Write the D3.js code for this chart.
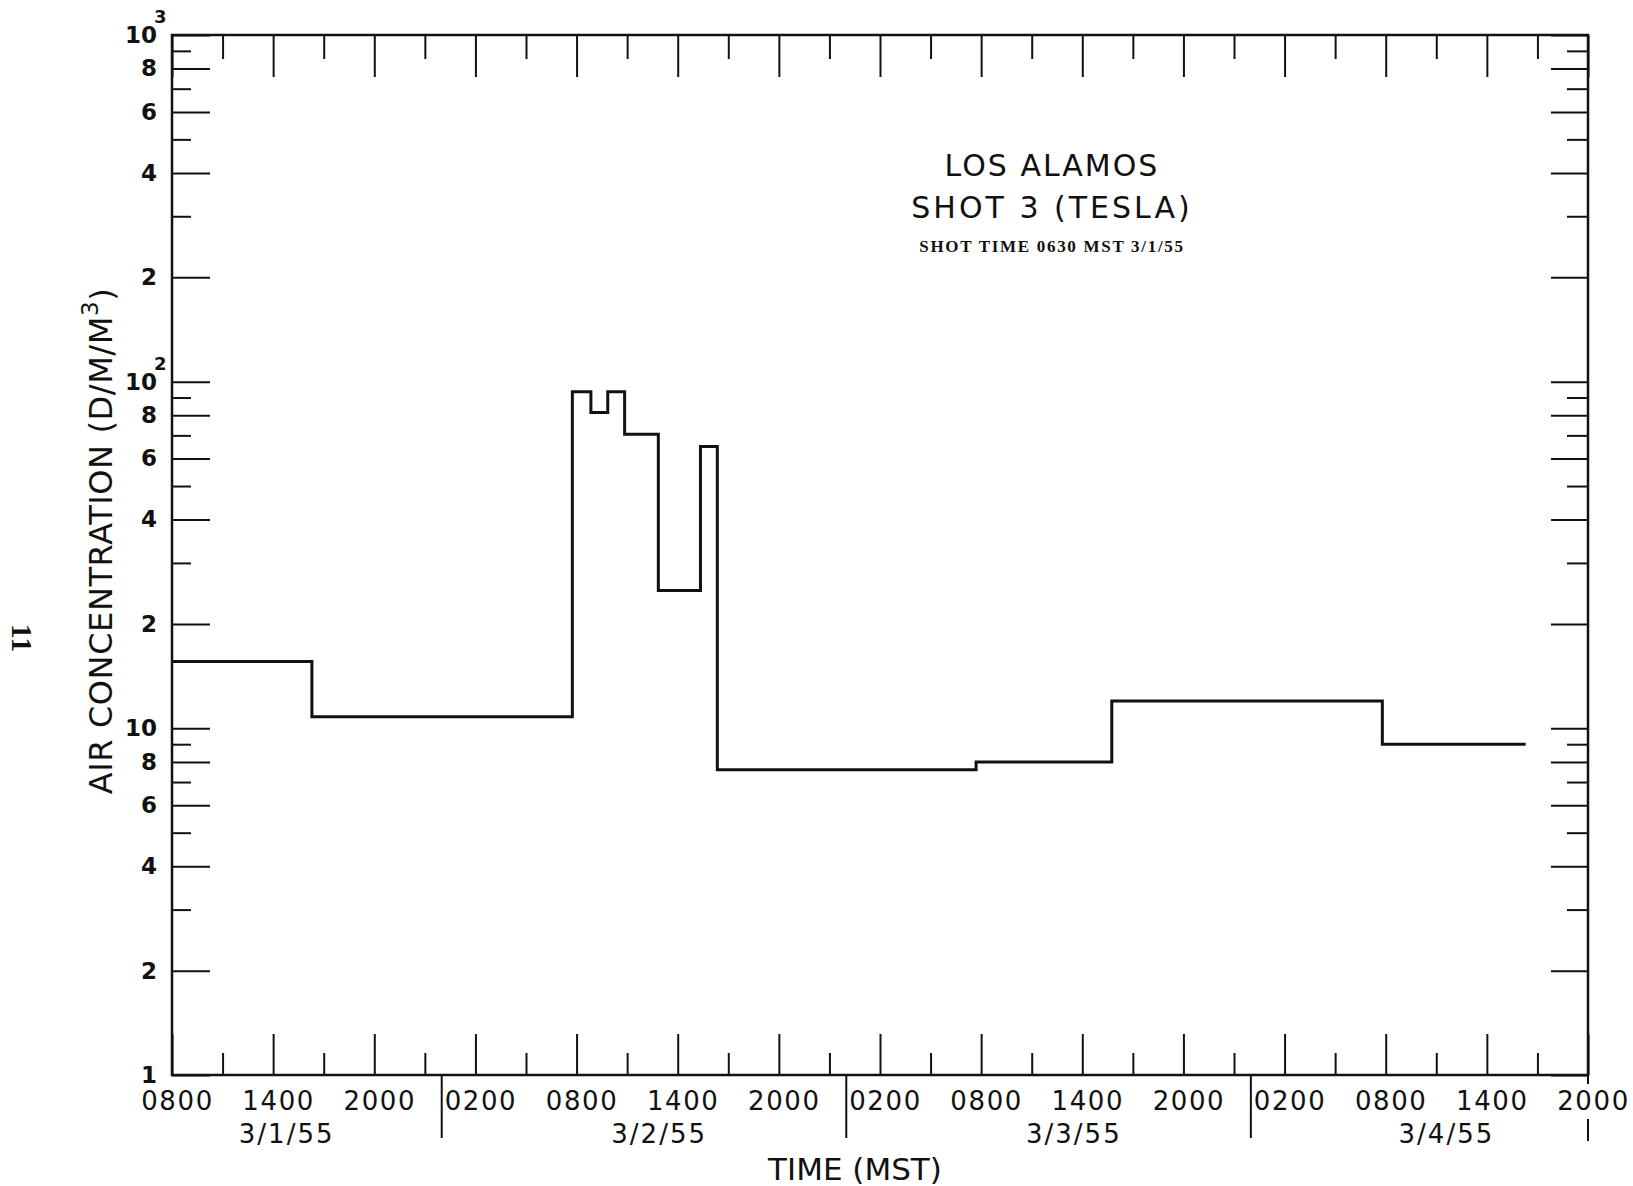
<!DOCTYPE html>
<html>
<head>
<meta charset="utf-8">
<script src="https://cdn.jsdelivr.net/npm/d3@7"></script>
<style>
  html, body { margin: 0; padding: 0; background: #fff; }
  svg { display: block; }
  text { font-family: 'DejaVu Sans', sans-serif; fill: #111; }
</style>
</head>
<body>
<div id="chart"></div>
<script>
// ── Data ── (time in hours counted from 3/1/55 0000 MST)
const stepEdges  = [8, 16.3, 31.75, 32.85, 33.85, 34.85, 36.85, 39.35, 40.35, 55.7, 63.75, 79.8, 88.3];
const stepValues = [15.6, 10.8, 93.5, 81.5, 93.5, 70.5, 25, 65, 7.6, 8.0, 12.0, 9.0];

const majorHours  = [8, 14, 20, 26, 32, 38, 44, 50, 56, 62, 68, 74, 80, 86, 92];
const majorLabels = ['0800', '1400', '2000', '0200', '0800', '1400', '2000', '0200',
                     '0800', '1400', '2000', '0200', '0800', '1400', '2000'];
const minorHours  = [11, 17, 23, 29, 35, 41, 47, 53, 59, 65, 71, 77, 83, 89];
const dayBreaks   = [24, 48, 72];
const dayNames    = ['3/1/55', '3/2/55', '3/3/55', '3/4/55'];
const dayLabelAt  = [14.8, 36.9, 61.5, 83.6];

const yMajor       = [1, 2, 4, 6, 8, 10, 20, 40, 60, 80, 100, 200, 400, 600, 800, 1000];
const yMajorLabels = ['1', '2', '4', '6', '8', '10', '2', '4', '6', '8', '10', '2', '4', '6', '8', '10'];
const yPowers      = [100, 1000];
const yPowerLabels = ['2', '3'];
const yMinor       = [3, 5, 7, 9, 30, 50, 70, 90, 300, 500, 700, 900];

// ── Layout ──
const margin = { top: 35, left: 172 };
const width  = 1416;
const height = 1040;

const svg = d3.select('#chart')
  .append('svg')
  .attr('width', 1633)
  .attr('height', 1186)
  .style('background', '#fff');

const g = svg.append('g')
  .attr('transform', `translate(${margin.left},${margin.top})`);

const x = d3.scaleLinear().domain([8, 92]).range([0, width]);
const y = d3.scaleLog().domain([1, 1000]).range([height, 0]);

function styleAxis(sel) {
  sel.attr('font-family', null).attr('font-size', null).style('color', '#111');
  sel.select('.domain').remove();
  sel.selectAll('line').attr('stroke-width', 2);
}

// ── Bottom axis ──
g.append('g')
  .attr('transform', `translate(0,${height})`)
  .call(d3.axisBottom(x).tickValues(majorHours).tickSize(-41).tickPadding(17)
    .tickFormat((d, i) => majorLabels[i]))
  .call(styleAxis)
  .selectAll('text')
  .attr('dx', 5)
  .style('font-size', '26px')
  .style('letter-spacing', '1.6px');

g.append('g')
  .attr('transform', `translate(0,${height})`)
  .call(d3.axisBottom(x).tickValues(minorHours).tickSize(-22).tickFormat(''))
  .call(styleAxis);

// ── Top axis ──
g.append('g')
  .call(d3.axisTop(x).tickValues(majorHours).tickSize(-42).tickFormat(''))
  .call(styleAxis);
g.append('g')
  .call(d3.axisTop(x).tickValues(minorHours).tickSize(-24).tickFormat(''))
  .call(styleAxis);

// ── Left axis ──
const leftAxis = g.append('g')
  .call(d3.axisLeft(y).tickValues(yMajor).tickSize(-38).tickPadding(15)
    .tickFormat((d, i) => yMajorLabels[i]))
  .call(styleAxis);
leftAxis.selectAll('text')
  .style('font-size', '23px')
  .style('font-weight', 'bold');

g.append('g')
  .call(d3.axisLeft(y).tickValues(yMinor).tickSize(-19).tickFormat(''))
  .call(styleAxis);

// exponents on 10^2, 10^3
g.selectAll('.power')
  .data(yPowers)
  .enter()
  .append('text')
  .attr('class', 'power')
  .attr('x', -18)
  .attr('y', d => y(d) - 12)
  .style('font-size', '18px')
  .style('font-weight', 'bold')
  .text((d, i) => yPowerLabels[i]);

// ── Right axis ──
g.append('g')
  .attr('transform', `translate(${width},0)`)
  .call(d3.axisRight(y).tickValues(yMajor).tickSize(-37).tickFormat(''))
  .call(styleAxis);
g.append('g')
  .attr('transform', `translate(${width},0)`)
  .call(d3.axisRight(y).tickValues(yMinor).tickSize(-21).tickFormat(''))
  .call(styleAxis);

// ── Frame ──
g.append('rect')
  .attr('x', 0)
  .attr('y', 0)
  .attr('width', width)
  .attr('height', height)
  .attr('fill', 'none')
  .attr('stroke', '#111')
  .attr('stroke-width', 2.5);

// ── Day separators ──
g.selectAll('.day-break')
  .data(dayBreaks)
  .enter()
  .append('line')
  .attr('x1', d => x(d)).attr('x2', d => x(d))
  .attr('y1', height).attr('y2', height + 63)
  .attr('stroke', '#111')
  .attr('stroke-width', 2);

// end marker, broken around the last label
[[0, 9], [44, 66]].forEach(([a, b]) => {
  g.append('line')
    .attr('x1', x(92)).attr('x2', x(92))
    .attr('y1', height + a).attr('y2', height + b)
    .attr('stroke', '#111')
    .attr('stroke-width', 2);
});

g.selectAll('.day-name')
  .data(dayNames)
  .enter()
  .append('text')
  .attr('x', (d, i) => x(dayLabelAt[i]))
  .attr('y', height + 68)
  .attr('text-anchor', 'middle')
  .style('font-size', '26px')
  .style('letter-spacing', '2px')
  .text(d => d);

// ── Step line ──
const points = stepValues.map((v, i) => [stepEdges[i], v]);
points.push([stepEdges[stepEdges.length - 1], stepValues[stepValues.length - 1]]);

g.append('path')
  .datum(points)
  .attr('fill', 'none')
  .attr('stroke', '#111')
  .attr('stroke-width', 3)
  .attr('d', d3.line()
    .x(d => x(d[0]))
    .y(d => y(d[1]))
    .curve(d3.curveStepAfter));

// ── Axis titles ──
svg.append('text')
  .attr('x', 855)
  .attr('y', 1180)
  .attr('text-anchor', 'middle')
  .style('font-size', '31px')
  .text('TIME (MST)');

const yTitle = svg.append('text')
  .attr('transform', 'translate(112,541) rotate(-90)')
  .attr('text-anchor', 'middle')
  .style('font-size', '32px')
  .style('letter-spacing', '0.6px');
yTitle.append('tspan').text('AIR CONCENTRATION (D/M/M');
yTitle.append('tspan').attr('dy', '-0.6em').style('font-size', '23px').text('3');
yTitle.append('tspan').attr('dy', '0.45em').text(')');

// ── Annotation block ──
svg.append('text')
  .attr('x', 1052).attr('y', 176)
  .attr('text-anchor', 'middle')
  .style('font-size', '30px')
  .style('letter-spacing', '2px')
  .text('LOS ALAMOS');
svg.append('text')
  .attr('x', 1052).attr('y', 218)
  .attr('text-anchor', 'middle')
  .style('font-size', '30px')
  .style('letter-spacing', '3px')
  .text('SHOT 3 (TESLA)');
svg.append('text')
  .attr('x', 1052).attr('y', 252)
  .attr('text-anchor', 'middle')
  .style('font-family', "'Liberation Serif', serif")
  .style('font-weight', 'bold')
  .style('font-size', '17px')
  .style('letter-spacing', '1.7px')
  .text('SHOT TIME 0630 MST 3/1/55');

// page number
svg.append('text')
  .attr('transform', 'translate(22,638) rotate(90)')
  .attr('text-anchor', 'middle')
  .attr('dominant-baseline', 'central')
  .style('font-family', "'Liberation Serif', serif")
  .style('font-weight', 'bold')
  .style('font-size', '30px')
  .text('11');
</script>
</body>
</html>
